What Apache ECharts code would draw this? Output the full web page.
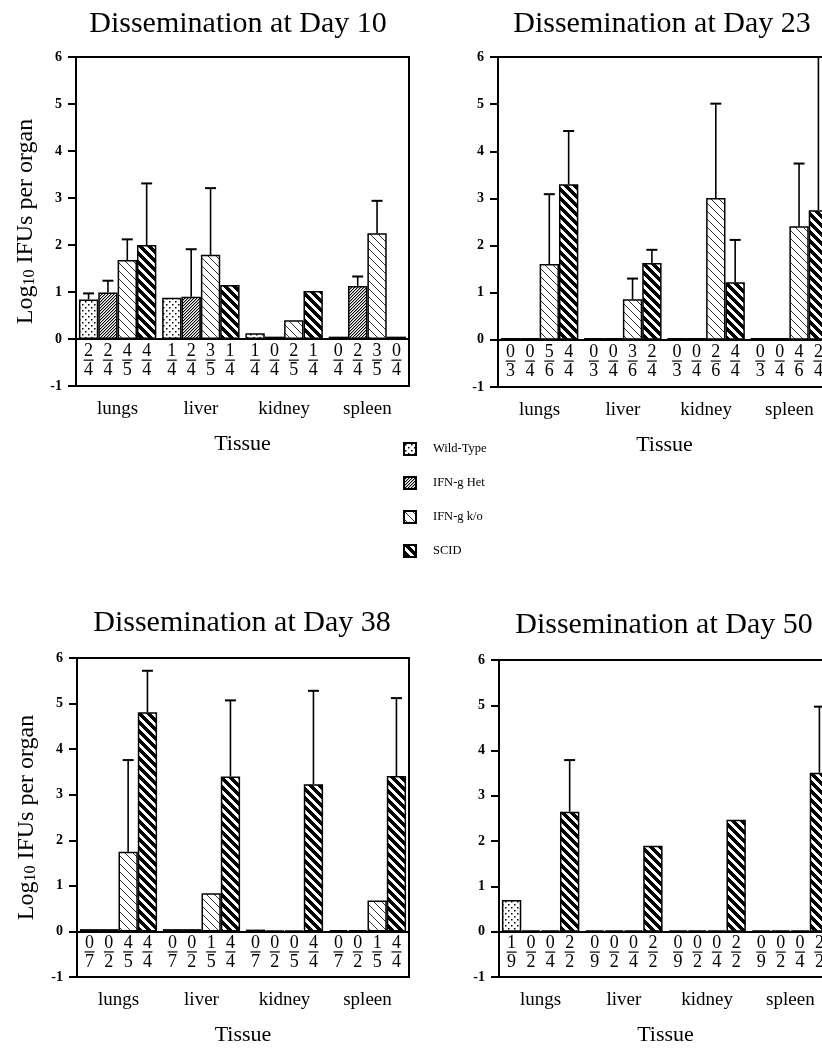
<!DOCTYPE html>
<html><head><meta charset="utf-8">
<script src="https://cdn.jsdelivr.net/npm/echarts@6/dist/echarts.min.js"></script>
<style>html,body{margin:0;padding:0;background:#fff}#c{width:822px;height:1063px}</style>
</head><body><div id="c"></div>
<script>
// ---------- data ----------
const tissues = ['lungs', 'liver', 'kidney', 'spleen'];
const groups = ['Wild-Type', 'IFN-g Het', 'IFN-g k/o', 'SCID'];
const titles = ['Dissemination at Day 10', 'Dissemination at Day 23', 'Dissemination at Day 38', 'Dissemination at Day 50'];
const yTicks = [-1, 0, 1, 2, 3, 4, 5, 6];

// means: rows = groups (WT, Het, k/o, SCID), columns = tissues
const day10_mean = [[0.84, 0.88, 0.12, 0.05], [0.99, 0.90, 0.05, 1.13], [1.68, 1.79, 0.40, 2.25], [2.00, 1.15, 1.02, 0.05]];
const day23_mean = [[0.04, 0.04, 0.04, 0.04], [0.04, 0.04, 0.04, 0.04], [1.61, 0.86, 3.01, 2.41], [3.30, 1.63, 1.22, 2.75]];
const day38_mean = [[0.05, 0.05, 0.04, 0.03], [0.05, 0.05, 0.02, 0.03], [1.75, 0.84, 0.02, 0.68], [4.81, 3.40, 3.23, 3.41]];
const day50_mean = [[0.70, 0.03, 0.03, 0.03], [0.03, 0.03, 0.03, 0.03], [0.03, 0.03, 0.03, 0.03], [2.65, 1.90, 2.47, 3.51]];

// upper end of error bars (null = none)
const day10_err = [[0.97, null, null, null], [1.24, 1.91, null, 1.33], [2.12, 3.21, null, 2.94], [3.31, null, null, null]];
const day23_err = [[null, null, null, null], [null, null, null, null], [3.09, 1.30, 5.01, 3.74], [4.43, 1.91, 2.12, 6.00]];
const day38_err = [[null, null, null, null], [null, null, null, null], [3.76, null, null, null], [5.72, 5.07, 5.28, 5.12]];
const day50_err = [[null, null, null, null], [null, null, null, null], [null, null, null, null], [3.79, null, null, 4.97]];

// positive animals / total animals
const day10_pos = [[2, 1, 1, 0], [2, 2, 0, 2], [4, 3, 2, 3], [4, 1, 1, 0]];
const day10_n   = [[4, 4, 4, 4], [4, 4, 4, 4], [5, 5, 5, 5], [4, 4, 4, 4]];
const day23_pos = [[0, 0, 0, 0], [0, 0, 0, 0], [5, 3, 2, 4], [4, 2, 4, 2]];
const day23_n   = [[3, 3, 3, 3], [4, 4, 4, 4], [6, 6, 6, 6], [4, 4, 4, 4]];
const day38_pos = [[0, 0, 0, 0], [0, 0, 0, 0], [4, 1, 0, 1], [4, 4, 4, 4]];
const day38_n   = [[7, 7, 7, 7], [2, 2, 2, 2], [5, 5, 5, 5], [4, 4, 4, 4]];
const day50_pos = [[1, 0, 0, 0], [0, 0, 0, 0], [0, 0, 0, 0], [2, 2, 2, 2]];
const day50_n   = [[9, 9, 9, 9], [2, 2, 2, 2], [4, 4, 4, 4], [2, 2, 2, 2]];

const panels = [
  { mean: day10_mean, err: day10_err, pos: day10_pos, n: day10_n },
  { mean: day23_mean, err: day23_err, pos: day23_pos, n: day23_n },
  { mean: day38_mean, err: day38_err, pos: day38_pos, n: day38_n },
  { mean: day50_mean, err: day50_err, pos: day50_pos, n: day50_n }
];

// ---------- styles ----------
const FONT = '"Liberation Serif", "Times New Roman", serif';
const GAP = 0.07;
const layout = [
  { grid: { left: 76, top: 57, width: 333, height: 329 }, title: { x: 238, y: 9 }, yName: true },
  { grid: { left: 498, top: 57, width: 333, height: 330 }, title: { x: 662, y: 9 }, yName: false },
  { grid: { left: 77, top: 658, width: 332, height: 319 }, title: { x: 242, y: 608 }, yName: true },
  { grid: { left: 499, top: 660, width: 333, height: 317 }, title: { x: 664, y: 610 }, yName: false }
];

function makePattern(kind) {
  const c = document.createElement('canvas');
  let s = 6;
  if (kind === 'het') s = 3;
  if (kind === 'ko') s = 8;
  if (kind === 'scid') s = 9;
  c.width = s; c.height = s;
  const ctx = c.getContext('2d');
  ctx.fillStyle = '#fff'; ctx.fillRect(0, 0, s, s);
  ctx.fillStyle = '#000';
  if (kind === 'wt') {
    ctx.fillRect(1, 1, 1.5, 1.5); ctx.fillRect(4, 4, 1.5, 1.5);
  } else if (kind === 'het') {
    for (let i = 0; i < s; i++) ctx.fillRect(s - 1 - i, i, 1, 1);
    ctx.fillStyle = 'rgba(0,0,0,0.35)';
    for (let i = 0; i < s; i++) ctx.fillRect((s - i) % s, i, 1, 1);
  } else if (kind === 'ko') {
    ctx.fillStyle = '#333';
    for (let i = 0; i < s; i++) ctx.fillRect(i, i, 1, 1);
  } else {
    for (let y = 0; y < s; y++) for (let k = 0; k < 5; k++) ctx.fillRect((y + k) % s, y, 1, 1);
  }
  return { image: c, repeat: 'repeat' };
}
const patterns = [makePattern('wt'), makePattern('het'), makePattern('ko'), makePattern('scid')];

function errRender(params, api) {
  const cat = api.value(0), g = api.value(1), top = api.value(2), mean = api.value(3);
  const cw = api.size([1, 0])[0];
  const bw = cw * (1 - GAP) / 4;
  const x = api.coord([cat, 0])[0] - 2 * bw + (g + 0.5) * bw;
  const y0 = api.coord([cat, mean])[1], y1 = api.coord([cat, top])[1];
  return { type: 'group', children: [
    { type: 'line', shape: { x1: x, y1: y0, x2: x, y2: y1 }, style: { stroke: '#000', lineWidth: 1.6 } },
    { type: 'line', shape: { x1: x - 5.5, y1: y1, x2: x + 5.5, y2: y1 }, style: { stroke: '#000', lineWidth: 2 } }
  ] };
}
function fracRender(params, api) {
  const cat = api.value(0), g = api.value(1), p = api.value(2), n = api.value(3);
  const cw = api.size([1, 0])[0];
  const bw = cw * (1 - GAP) / 4;
  const x = api.coord([cat, 0])[0] - 2 * bw + (g + 0.5) * bw;
  const yl = api.coord([cat, -0.45])[1];
  const st = { fill: '#000', fontFamily: FONT, fontSize: 18, align: 'center' };
  return { type: 'group', children: [
    { type: 'text', style: Object.assign({ text: String(p), x: x, y: yl + 0.5, verticalAlign: 'bottom' }, st) },
    { type: 'line', shape: { x1: x - 5, y1: yl, x2: x + 5, y2: yl }, style: { stroke: '#000', lineWidth: 1.2 } },
    { type: 'text', style: Object.assign({ text: String(n), x: x, y: yl + 1.5, verticalAlign: 'top' }, st) }
  ] };
}

const grid = [], xAxis = [], yAxis = [], series = [], title = [];
layout.forEach((L, i) => {
  grid.push(Object.assign({ show: true, borderColor: '#000', borderWidth: 2, backgroundColor: 'transparent', containLabel: false, outerBoundsMode: 'none' }, L.grid));
  title.push({ text: titles[i], left: L.title.x, top: L.title.y, textAlign: 'center', padding: 0,
    textStyle: { fontFamily: FONT, fontSize: 30, fontWeight: 'normal', color: '#000' } });
  xAxis.push({ type: 'category', gridIndex: i, data: tissues,
    axisLine: { onZero: false, lineStyle: { color: '#000', width: 2 } },
    axisTick: { alignWithLabel: true, length: 7, lineStyle: { color: '#000', width: 2 } },
    axisLabel: { fontFamily: FONT, fontSize: 19, color: '#000', margin: 14 },
    name: 'Tissue', nameLocation: 'middle', nameGap: 47,
    nameTextStyle: { fontFamily: FONT, fontSize: 22, color: '#000' } });
  const ya = { type: 'value', gridIndex: i, min: yTicks[0], max: yTicks[yTicks.length - 1], interval: 1,
    axisLine: { show: true, lineStyle: { color: '#000', width: 2 } },
    axisTick: { show: true, length: 8, lineStyle: { color: '#000', width: 2 } },
    axisLabel: { fontFamily: FONT, fontSize: 14, fontWeight: 'bold', color: '#000', margin: 14 },
    splitLine: { show: false } };
  if (L.yName) {
    Object.assign(ya, { name: '{a|Log}{s|10}{a| IFUs per organ}', nameLocation: 'middle', nameGap: 38,
      nameTextStyle: { rich: {
        a: { fontFamily: FONT, fontSize: 24, color: '#000', lineHeight: 24, verticalAlign: 'top' },
        s: { fontFamily: FONT, fontSize: 16, color: '#000', lineHeight: 16, verticalAlign: 'bottom', padding: [12, 0, 0, 0] } } } });
  }
  yAxis.push(ya);
  const P = panels[i];
  groups.forEach((gName, g) => {
    const s = { type: 'bar', name: gName, xAxisIndex: i, yAxisIndex: i, data: P.mean[g],
      barGap: '0%', barCategoryGap: (GAP * 100) + '%',
      itemStyle: { color: patterns[g], borderColor: '#000', borderWidth: 1.5 },
      emphasis: { disabled: true }, z: 2 };
    if (g === 0) {
      s.markLine = { silent: true, symbol: ['none', 'none'], label: { show: false },
        lineStyle: { color: '#000', width: 2, type: 'solid' }, data: [{ yAxis: 0 }], animation: false };
    }
    series.push(s);
  });
  const errData = [], fracData = [];
  groups.forEach((gName, g) => tissues.forEach((t, c) => {
    if (P.err[g][c] != null) errData.push([c, g, P.err[g][c], P.mean[g][c]]);
    fracData.push([c, g, P.pos[g][c], P.n[g][c]]);
  }));
  series.push({ type: 'custom', xAxisIndex: i, yAxisIndex: i, renderItem: errRender, data: errData,
    encode: { x: 0, y: 2 }, silent: true, z: 3, clip: false });
  series.push({ type: 'custom', xAxisIndex: i, yAxisIndex: i, renderItem: fracRender, data: fracData,
    encode: { x: 0, y: 3 }, silent: true, z: 3, clip: false });
});

const chart = echarts.init(document.getElementById('c'), null, { renderer: 'canvas' });
chart.setOption({
  animation: false,
  backgroundColor: '#fff',
  title: title, grid: grid, xAxis: xAxis, yAxis: yAxis, series: series,
  legend: { data: groups, orient: 'vertical', left: 403, top: 442, padding: 0, itemWidth: 12, itemHeight: 12, itemGap: 20,
    icon: 'rect', selectedMode: false,
    textStyle: { fontFamily: FONT, fontSize: 12.5, color: '#000', padding: [0, 0, 0, 12] } },
  tooltip: { show: false }
});
</script></body></html>
